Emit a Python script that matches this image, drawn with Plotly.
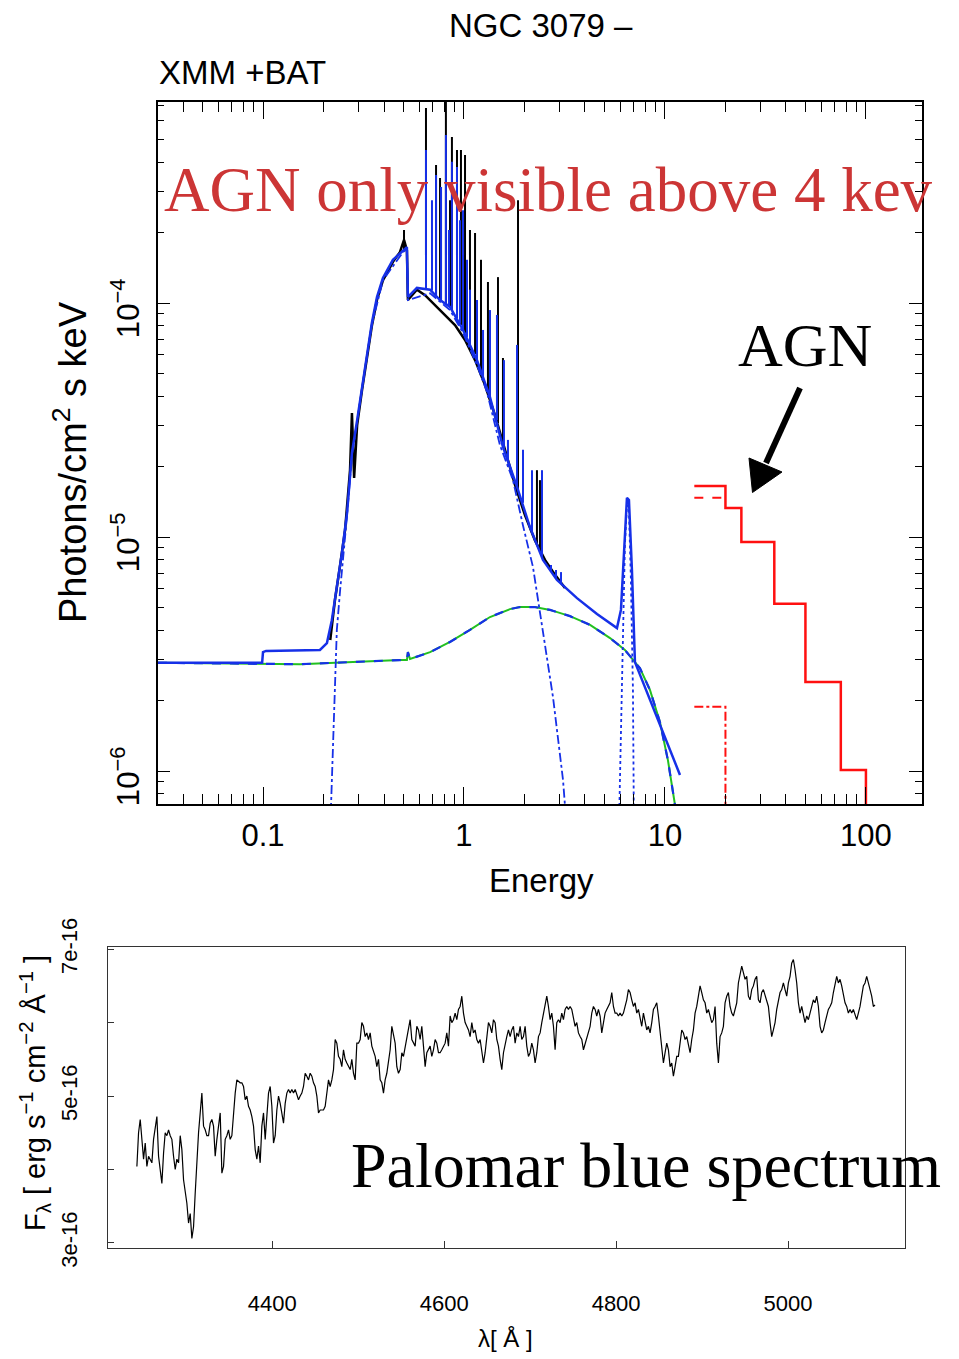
import numpy as np
import plotly.graph_objects as go

W, H = 959, 1359

# ---------------- Top panel data (XMM + BAT) ----------------
# Total model continuum (blue solid)
tot_E = [0.030, 0.099, 0.100, 0.1035, 0.192, 0.208, 0.220, 0.233, 0.247, 0.262, 0.277, 0.294,
         0.311, 0.329, 0.348, 0.369, 0.395, 0.443, 0.497, 0.520, 0.526, 0.583, 0.678, 0.760,
         0.852, 0.989, 1.161, 1.347, 1.563, 1.835, 2.130, 2.472, 2.902, 3.65, 4.59, 5.77,
         6.04, 6.25, 6.47, 6.62, 6.85, 7.09, 8.42, 10.0, 11.88]
tot_F = [2.90e-6, 2.90e-6, 3.22e-6, 3.26e-6, 3.29e-6, 3.52e-6, 4.41e-6, 6.11e-6, 8.55e-6, 1.27e-5,
         2.29e-5, 3.16e-5, 4.38e-5, 6.11e-5, 8.22e-5, 1.06e-4, 1.28e-4, 1.53e-4, 1.68e-4, 1.73e-4,
         1.06e-4, 1.16e-4, 1.14e-4, 1.03e-4, 9.62e-5, 7.67e-5, 5.70e-5, 3.96e-5, 2.43e-5, 1.64e-5,
         1.10e-5, 7.98e-6, 6.55e-6, 5.48e-6, 4.69e-6, 4.08e-6, 4.88e-6, 7.98e-6, 1.47e-5, 1.44e-5,
         7.23e-6, 2.92e-6, 2.01e-6, 1.40e-6, 9.62e-7]

# Model emission lines (blue): energy, base, peak
mline_E = [0.647, 0.693, 0.726, 0.769, 0.813, 0.842, 0.871, 0.923, 0.955, 0.989, 1.035, 1.071,
           1.161, 1.244, 1.347, 1.459, 1.581, 1.655, 1.835, 1.966, 2.180, 2.444, 2.710, 2.870, 3.04]
mline_base = [1.15e-4, 1.13e-4, 1.08e-4, 1.03e-4, 9.90e-5, 9.71e-5, 9.33e-5, 8.63e-5, 8.22e-5,
              7.67e-5, 7.16e-5, 6.68e-5, 5.70e-5, 4.83e-5, 3.96e-5, 3.16e-5, 2.36e-5, 2.09e-5,
              1.64e-5, 1.40e-5, 1.05e-5, 8.22e-6, 7.08e-6, 6.68e-6, 6.35e-6]
mline_peak = [4.51e-4, 2.75e-4, 3.52e-4, 3.13e-4, 5.22e-4, 2.05e-4, 4.01e-4, 3.81e-4, 2.26e-4,
              2.49e-4, 1.53e-4, 1.14e-4, 1.03e-4, 7.67e-5, 9.33e-5, 8.89e-5, 5.70e-5, 2.60e-5,
              6.62e-5, 2.36e-5, 1.93e-5, 1.93e-5, 7.59e-6, 7.23e-6, 7.08e-6]

# Data continuum (black)
dat_E = [0.216, 0.228, 0.242, 0.256, 0.271, 0.277, 0.284, 0.294, 0.311, 0.329, 0.348, 0.369,
         0.395, 0.443, 0.480, 0.503, 0.520, 0.526, 0.583, 0.640, 0.718, 0.804, 0.902, 1.012,
         1.135, 1.271, 1.426, 1.600, 1.794, 2.011, 2.25, 2.53, 2.84, 3.18]
dat_F = [3.63e-6, 5.38e-6, 7.59e-6, 1.07e-5, 1.93e-5, 3.39e-5, 1.79e-5, 3.01e-5, 4.25e-5, 5.94e-5,
         7.97e-5, 1.03e-4, 1.25e-4, 1.50e-4, 1.65e-4, 1.86e-4, 1.68e-4, 1.03e-4, 1.14e-4, 1.08e-4,
         9.80e-5, 8.89e-5, 8.05e-5, 6.95e-5, 5.70e-5, 4.47e-5, 3.32e-5, 2.36e-5, 1.67e-5, 1.24e-5,
         9.71e-6, 7.98e-6, 6.89e-6, 6.05e-6]

# Data emission spikes (black): energy, base, peak
dline_E = [0.503, 0.647, 0.726, 0.760, 0.813, 0.852, 0.871, 0.923, 0.966, 1.012, 1.071, 1.135,
           1.215, 1.316, 1.476, 1.563, 1.857, 2.307, 2.388]
dline_base = [1.70e-4, 1.15e-4, 1.08e-4, 1.03e-4, 9.90e-5, 9.62e-5, 9.33e-5, 8.63e-5, 8.05e-5,
              7.45e-5, 6.68e-5, 6.05e-5, 5.12e-5, 4.21e-5, 3.07e-5, 2.43e-5, 1.59e-5, 9.25e-6, 8.63e-6]
dline_peak = [2.05e-4, 6.81e-4, 3.89e-4, 3.42e-4, 9.0e-4, 2.75e-4, 5.12e-4, 4.51e-4, 4.51e-4,
              4.29e-4, 2.05e-4, 1.99e-4, 1.53e-4, 1.23e-4, 1.29e-4, 5.82e-5, 2.75e-4, 1.93e-5, 1.75e-5]

# Reflection hump component (dashed)
hump_E = [0.030, 0.153, 0.480, 0.520, 0.526, 0.539, 0.678, 0.852, 1.071, 1.347, 1.694, 1.90,
          2.25, 2.68, 3.37, 4.24, 5.33, 6.32, 7.51, 8.42, 9.44, 10.35, 11.22, 11.6]
hump_F = [2.90e-6, 2.86e-6, 2.98e-6, 2.98e-6, 3.22e-6, 3.01e-6, 3.22e-6, 3.56e-6, 4.01e-6, 4.55e-6,
          4.92e-6, 5.02e-6, 5.02e-6, 4.88e-6, 4.59e-6, 4.21e-6, 3.70e-6, 3.29e-6, 2.75e-6, 2.22e-6,
          1.62e-6, 1.11e-6, 7.16e-7, 5.6e-7]

# Thermal component (dash-dot)
therm_E = [0.216, 0.223, 0.228, 0.233, 0.242, 0.253, 0.262, 0.277, 0.311, 0.348, 0.395, 0.497,
           0.520, 0.526, 0.678, 0.852, 0.989, 1.161, 1.301, 1.51, 1.753, 1.966, 2.204, 2.472,
           2.773, 3.11, 3.25]
therm_F = [5.6e-7, 1.36e-6, 2.45e-6, 4.01e-6, 5.94e-6, 8.80e-6, 1.24e-5, 2.24e-5, 4.29e-5, 8.05e-5,
           1.25e-4, 1.65e-4, 1.70e-4, 1.03e-4, 1.10e-4, 9.33e-5, 7.45e-5, 5.43e-5, 4.17e-5, 2.47e-5,
           1.75e-5, 1.12e-5, 7.45e-6, 4.01e-6, 2.07e-6, 9.16e-7, 5.6e-7]

# Fe K line (dotted)
fe_E = [5.90, 6.04, 6.18, 6.32, 6.47, 6.62, 6.77, 6.93, 7.01]
fe_F = [5.6e-7, 1.65e-6, 4.41e-6, 9.25e-6, 1.37e-5, 1.30e-5, 6.55e-6, 2.22e-6, 5.6e-7]

# BAT (red) step spectrum: bin edges and values
bat_edges = [14, 20, 24, 35, 50, 75, 100]
bat_F = [1.65e-5, 1.33e-5, 9.53e-6, 5.18e-6, 2.40e-6, 1.01e-6]
bat_dash_F = 1.47e-5
bat_dashdot_F = 1.88e-6

# ---------------- Bottom panel data (Palomar blue spectrum) ----------------
lam_start, lam_step = 4242.6, 1.938
flux_1e16 = [
    4.04, 4.50, 4.68, 4.41, 4.14, 4.36, 4.04, 4.18, 4.14, 4.09,
    4.41, 4.59, 4.72, 4.18, 3.95, 3.81, 4.22, 4.50, 4.46, 4.54,
    4.46, 4.41, 4.18, 4.00, 4.14, 4.09, 4.46, 4.27, 3.86, 3.68,
    3.54, 3.27, 3.40, 3.06, 3.22, 3.68, 4.18, 4.50, 4.77, 5.04,
    4.59, 4.54, 4.46, 4.46, 4.63, 4.68, 4.59, 4.18, 4.41, 4.59,
    4.77, 3.95, 4.04, 4.41, 4.46, 4.54, 4.41, 4.46, 4.81, 5.04,
    5.22, 5.20, 5.18, 5.18, 5.13, 4.95, 5.00, 4.86, 4.81, 4.72,
    4.59, 4.27, 4.14, 4.32, 4.09, 4.59, 4.77, 4.41, 4.77, 5.04,
    5.13, 4.86, 4.36, 4.46, 4.81, 5.00, 4.90, 4.77, 4.63, 4.90,
    5.04, 5.09, 5.04, 5.09, 5.04, 5.09, 5.00, 4.95, 5.00, 5.04,
    5.13, 5.31, 5.27, 5.22, 5.31, 5.27, 5.18, 5.13, 5.00, 4.77,
    4.81, 4.81, 4.81, 4.86, 5.04, 5.22, 5.13, 5.22, 5.36, 5.77,
    5.72, 5.54, 5.50, 5.40, 5.63, 5.50, 5.45, 5.40, 5.36, 5.50,
    5.31, 5.22, 5.72, 5.72, 5.77, 6.00, 5.95, 5.81, 5.86, 5.77,
    5.86, 5.68, 5.59, 5.54, 5.40, 5.50, 5.22, 5.18, 5.04,
    5.22, 5.31, 5.50, 5.63, 5.95, 5.81, 5.72, 5.40, 5.31, 5.36,
    5.59, 5.54, 5.68, 5.77, 5.90, 6.04, 5.77, 5.72, 5.68, 5.95,
    5.90, 5.77, 5.95, 5.68, 5.40, 5.59, 5.63, 5.68, 5.54, 5.63,
    5.77, 5.72, 5.59, 5.59, 5.63, 5.68, 5.72, 5.86, 5.68, 6.09,
    6.00, 6.04, 6.13, 6.04, 6.18, 6.22, 6.36, 6.13, 6.00, 5.95,
    5.90, 5.81, 6.00, 5.86, 5.90, 5.77, 5.72, 5.77, 5.59, 5.45,
    5.59, 5.77, 6.00, 5.95, 5.86, 6.04, 6.00, 5.77, 5.68, 5.50,
    5.36, 5.59, 5.72, 5.81, 5.90, 5.81, 5.90, 5.95, 5.72, 5.86,
    5.81, 5.95, 5.77, 5.81, 5.95, 5.68, 5.54, 5.59, 5.72, 5.63,
    5.45, 5.59, 5.81, 5.86, 6.00, 6.13, 6.27, 6.36, 6.22, 6.04,
    6.13, 5.95, 5.63, 6.00, 6.04, 6.00, 6.13, 6.04, 6.18, 6.22,
    6.18, 6.22, 6.18, 6.04, 5.95, 6.00, 5.86, 5.81, 5.77, 5.63,
    5.72, 5.77, 5.86, 5.95, 6.13, 6.22, 6.18, 6.09, 6.18, 6.09,
    5.86, 6.00, 6.13, 6.18, 6.22, 6.27, 6.41, 6.22, 6.13, 6.13,
    6.09, 6.13, 6.09, 6.13, 6.22, 6.31, 6.45, 6.41, 6.31, 6.22,
    6.27, 6.13, 6.18, 6.04, 5.95, 6.13, 6.00, 5.90, 5.95, 5.86,
    6.00, 6.18, 6.22, 6.27, 6.09,
    5.86, 5.63, 5.45, 5.59, 5.72, 5.63, 5.40, 5.45, 5.27, 5.40,
    5.54, 5.54, 5.72, 5.90, 5.86, 5.77, 5.81, 5.68, 5.59, 5.77,
    5.90, 6.13, 6.22, 6.36, 6.50, 6.41, 6.31, 6.27, 6.13, 6.18,
    6.09, 6.00, 6.04, 6.22, 5.72, 5.45, 5.81, 5.86, 5.95, 6.27,
    6.36, 6.41, 6.22, 6.13, 6.09, 6.18, 6.27, 6.54, 6.68, 6.77,
    6.68, 6.59, 6.63, 6.36, 6.31, 6.45, 6.50, 6.59, 6.63, 6.31,
    6.27, 6.41, 6.45, 6.36, 6.31, 6.22, 6.00, 5.81, 5.90, 6.00,
    6.18, 6.31, 6.41, 6.45, 6.54, 6.45, 6.36, 6.54, 6.63, 6.81,
    6.86, 6.72, 6.54, 6.27, 6.13, 6.22, 6.09, 6.00, 6.09, 6.04,
    6.13, 6.22, 6.31, 6.27, 6.36, 6.22, 5.95, 5.86, 5.90, 6.00,
    6.09, 6.18, 6.22, 6.27, 6.41, 6.50, 6.63, 6.54, 6.59, 6.50,
    6.36, 6.27, 6.22, 6.13, 6.18, 6.13, 6.18, 6.09, 6.04, 6.13,
    6.22, 6.36, 6.50, 6.54, 6.63, 6.54, 6.45, 6.36, 6.22, 6.24,
]
FLUX_UNIT = 1e-16

x_ticks_bottom = [4400, 4600, 4800, 5000]
y_ticks_bottom = [3e-16, 5e-16, 7e-16]
y_ticktext_bottom = ["3e-16", "5e-16", "7e-16"]
y_minor_bottom = [4e-16, 6e-16]

# ---------------- Figure ----------------
BLUE = "#1630e8"
RED = "#ff1010"
SANS = "Liberation Sans, Arial, Helvetica, sans-serif"
SERIF = "Liberation Serif, Times New Roman, serif"

def spikes(E, base, peak):
    xs, ys = [], []
    for e, b, p in zip(E, base, peak):
        xs += [e, e, None]
        ys += [b, p, None]
    return xs, ys

fig = go.Figure()
fig.add_trace(go.Scatter(x=hump_E, y=hump_F, mode="lines", line=dict(color="#22c020", width=2),
                         xaxis="x", yaxis="y", hoverinfo="skip"))
fig.add_trace(go.Scatter(x=dat_E, y=dat_F, mode="lines", line=dict(color="black", width=2.5),
                         xaxis="x", yaxis="y"))
sx, sy = spikes(dline_E, dline_base, dline_peak)
fig.add_trace(go.Scatter(x=sx, y=sy, mode="lines", line=dict(color="black", width=2),
                         xaxis="x", yaxis="y", connectgaps=False))
fig.add_trace(go.Scatter(x=hump_E, y=hump_F, mode="lines", line=dict(color=BLUE, width=2.2, dash="dash"),
                         xaxis="x", yaxis="y"))
fig.add_trace(go.Scatter(x=therm_E, y=therm_F, mode="lines", line=dict(color=BLUE, width=1.8, dash="dashdot"),
                         xaxis="x", yaxis="y"))
fig.add_trace(go.Scatter(x=fe_E, y=fe_F, mode="lines", line=dict(color=BLUE, width=1.8, dash="dot"),
                         xaxis="x", yaxis="y"))
fig.add_trace(go.Scatter(x=tot_E, y=tot_F, mode="lines", line=dict(color=BLUE, width=2.5),
                         xaxis="x", yaxis="y"))
sx, sy = spikes(mline_E, mline_base, mline_peak)
fig.add_trace(go.Scatter(x=sx, y=sy, mode="lines", line=dict(color=BLUE, width=2),
                         xaxis="x", yaxis="y", connectgaps=False))
fig.add_trace(go.Scatter(x=bat_edges, y=bat_F + [1e-7], mode="lines", line=dict(color=RED, width=2.5, shape="hv"),
                         xaxis="x", yaxis="y"))
fig.add_trace(go.Scatter(x=bat_edges[:2], y=[bat_dash_F, bat_dash_F], mode="lines",
                         line=dict(color=RED, width=2, dash="dash"), xaxis="x", yaxis="y"))
fig.add_trace(go.Scatter(x=[bat_edges[0], bat_edges[1], bat_edges[1]], y=[bat_dashdot_F, bat_dashdot_F, 1e-7],
                         mode="lines", line=dict(color=RED, width=2, dash="dashdot"), xaxis="x", yaxis="y"))

lam = lam_start + lam_step * np.arange(len(flux_1e16))
fig.add_trace(go.Scatter(x=lam, y=np.array(flux_1e16) * FLUX_UNIT, mode="lines",
                         line=dict(color="black", width=1.2), xaxis="x2", yaxis="y2"))

def px(x):
    return x / W

def py(y):
    return 1 - y / H

fig.update_layout(
    width=W, height=H, margin=dict(l=0, r=0, t=0, b=0, autoexpand=False),
    paper_bgcolor="white", plot_bgcolor="white", showlegend=False,
    xaxis=dict(type="log", range=[-1.525, 2.279], domain=[px(157.5), px(922)], anchor="y", automargin=False,
               showgrid=False, zeroline=False, showline=True, linecolor="black", linewidth=1.5,
               mirror="allticks", ticks="inside", ticklen=17, tickwidth=1.3, tickcolor="black",
               dtick=1, tickfont=dict(family=SANS, size=31, color="black"), ticklabelstandoff=3,
               minor=dict(ticks="inside", ticklen=10, tickwidth=1.2, tickcolor="black", dtick="D1", showgrid=False)),
    yaxis=dict(type="log", range=[-6.141, -3.141], domain=[py(804), py(102)], anchor="x", automargin=False,
               showgrid=False, zeroline=False, showline=True, linecolor="black", linewidth=1.5,
               mirror="allticks", ticks="inside", ticklen=13, tickwidth=1.3, tickcolor="black",
               dtick=1, exponentformat="power", tickangle=-90,
               tickfont=dict(family=SANS, size=25, color="black"), ticklabelstandoff=6, ticklabelshift=10,
               minor=dict(ticks="inside", ticklen=7, tickwidth=1.2, tickcolor="black", dtick="D1", showgrid=False)),
    xaxis2=dict(range=[4209, 5136], domain=[px(108), px(905)], anchor="y2", automargin=False,
                showgrid=False, zeroline=False, showline=True, linecolor="#333333", linewidth=1.2,
                mirror=True, ticks="inside", ticklen=7, tickwidth=1, tickcolor="#333333",
                tickvals=x_ticks_bottom, tickfont=dict(family=SANS, size=22, color="black"),
                ticklabelstandoff=35),
    yaxis2=dict(range=[2.93e-16, 7.03e-16], domain=[py(1248), py(947)], anchor="x2", automargin=False,
                showgrid=False, zeroline=False, showline=True, linecolor="#333333", linewidth=1.2,
                mirror=True, ticks="inside", ticklen=6, tickwidth=1, tickcolor="#333333",
                tickvals=y_ticks_bottom, ticktext=y_ticktext_bottom, tickangle=-90,
                tickfont=dict(family=SANS, size=22, color="black"), ticklabelstandoff=21,
                minor=dict(tickmode="array", tickvals=y_minor_bottom, ticks="inside", ticklen=6,
                           tickwidth=1, tickcolor="#333333", showgrid=False)),
)

ann = [
    dict(text="NGC 3079 –", x=px(541), y=py(25), font=dict(family=SANS, size=33)),
    dict(text="XMM +BAT", x=px(157), y=py(72), xanchor="left", font=dict(family=SANS, size=33)),
    dict(text="Energy", x=px(541), y=py(880), font=dict(family=SANS, size=33)),
    dict(text="Photons/cm<sup>2</sup> s keV", x=px(70), y=py(462), textangle=-90,
         font=dict(family=SANS, size=38)),
    dict(text="AGN only visible above 4 kev", x=px(162), y=py(190), xanchor="left",
         font=dict(family=SERIF, size=63, color="#cc3535")),
    dict(text="AGN", x=px(805), y=py(345), font=dict(family=SERIF, size=62, color="black")),
    dict(text="Palomar blue spectrum", x=px(349), y=py(1165), xanchor="left",
         font=dict(family=SERIF, size=64, color="black")),
    dict(text="F<sub>λ</sub> [ erg s<sup>−1</sup> cm<sup>−2</sup> Å<sup>−1</sup> ]", x=px(35), y=py(1093),
         textangle=-90, font=dict(family=SANS, size=29)),
    dict(text="λ[ Å ]", x=px(505), y=py(1338), font=dict(family=SANS, size=24)),
]
for a in ann:
    a.setdefault("xref", "paper")
    a.setdefault("yref", "paper")
    a.setdefault("showarrow", False)
    a.setdefault("xanchor", "center")
    a.setdefault("yanchor", "middle")
    a["font"].setdefault("color", "black")
    fig.add_annotation(**a)

# Arrow from the "AGN" label to the BAT spectrum (drawn as shapes in paper space)
fig.add_shape(type="line", xref="paper", yref="paper", x0=px(800), y0=py(388), x1=px(766), y1=py(463),
              line=dict(color="black", width=6))
tri = "M {:.5f} {:.5f} L {:.5f} {:.5f} L {:.5f} {:.5f} Z".format(
    px(752.5), py(492.5), px(749), py(458), px(782), py(472))
fig.add_shape(type="path", xref="paper", yref="paper", path=tri,
              fillcolor="black", line=dict(color="black", width=1))

fig.write_html("out.html")
